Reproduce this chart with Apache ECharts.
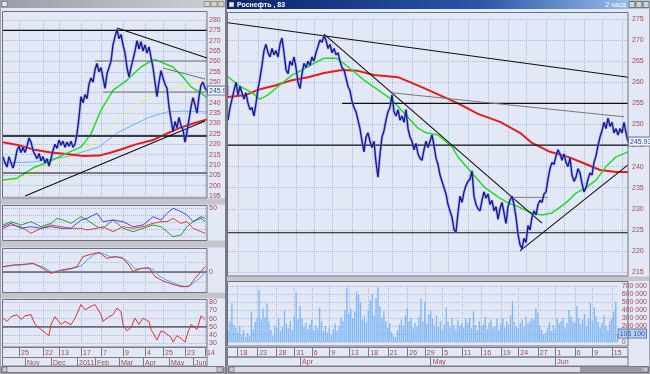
<!DOCTYPE html>
<html><head><meta charset="utf-8">
<script src="https://cdn.jsdelivr.net/npm/echarts/dist/echarts.min.js"></script>
<style>html,body{margin:0;padding:0;background:#a0a0a8}#c{width:650px;height:374px}</style>
</head><body><div id="c"></div><script>
// ---------- DATA ----------
// Left window (daily)
const leftPrice = [214,211,209,214,211,208.5,212,217,219,216,
218.5,216,219,223,221,217,215,213,215.5,212,
214,211,213,209.5,213,217,220,218,222,219.5,
221.5,218.5,221,219,221.5,218.5,220,225,233,243,
240,244,242,249,252,250,256,259,255,257,
252,247,254,257,260,268,272,275.5,271,273,
268,264,257,252.5,257,261,265,270,266,269.5,
265,268,264,267,262,257,250,243,250,255.5,
252,249,247,238,232,226,231,228,233,229,
227,221,226,232,238,242.5,239,235,243,248.5,
250,247,245.9];
const leftRedMA = [[0,221],[8,219.5],[15,217.5],[24,216],[33,215.2],[40,214.3],[48,214.5],[54,216],[60,217.8],[66,219.8],[75,222],[82,225.2],[88,227.8],[95,230],[102,232]];
const leftGreenMA = [[0,202.7],[7,203.6],[15,208.5],[24,212],[32,215.7],[39,218.7],[44,225],[49,236.5],[55,246],[62,251],[69,257.3],[74,260.2],[76,261],[79,259.7],[85,257.3],[90,252.5],[94,247.7],[99,244.7],[102,242.5]];
const leftYellowMA = [[0,200.3],[15,206],[32,212.4],[48,222],[57,231.7],[65,238],[73,243],[82,246],[90,248.6],[102,251]];
const leftBlueMA = [[0,211],[15,211.4],[32,214],[48,218.7],[57,225.4],[65,229.3],[73,233],[82,235.6],[90,236],[102,235.6]];
const leftBlackLines = [[[0,275],[102,275]],[[0,206.1],[102,206.1]],[[57,276.1],[102,261.6]],[[11,195],[101,231.2]]];
const leftThickLines = [[[0,224],[102,224]]];
const leftGrayLines = [[[46,260.2],[102,260.2]],[[50,245.2],[102,245.2]],[[80,256.8],[101,251.5]]];
const dmiBlue = [[0,23.3],[4,28.1],[9,21],[14,23.3],[19,21],[24,23.3],[29,21],[34,21],[39,32.9],[42,35.2],[47,42.4],[50,30.5],[55,32.9],[60,30.5],[65,23.3],[70,25.7],[75,37.6],[79,32.9],[82,42.4],[85,49.5],[89,44.8],[92,40],[95,30.5],[99,37.6],[101,35.2]];
const dmiRed = [[0,21],[4,25.7],[9,23.3],[14,13.8],[19,21],[24,25.7],[29,23.3],[34,21],[39,21],[42,18.6],[47,21],[50,23.3],[55,16.2],[60,23.3],[65,21],[70,23.3],[75,28.1],[79,30.5],[82,30.5],[85,35.2],[89,28.1],[92,30.5],[95,21],[99,16.2],[101,13.8]];
const dmiGreen = [[0,25.7],[4,30.5],[9,25.7],[14,30.5],[19,23.3],[24,28.1],[27,35.2],[30,32.9],[34,28.1],[39,37.6],[42,32.9],[47,23.3],[50,21],[55,32.9],[60,21],[65,16.2],[70,21],[75,25.7],[79,23.3],[82,16.2],[85,9],[89,11.4],[92,23.3],[95,30.5],[99,35.2],[101,30.5]];
const macdLine = [[0,2.7],[5,3.5],[10,3.8],[15,4.3],[20,1.8],[24,-0.7],[29,1],[34,1.8],[37,2.7],[40,7.7],[44,8.8],[48,9.8],[52,6.8],[56,7.7],[60,6.8],[63,3.5],[65,0.2],[69,1.8],[73,2.2],[76,-2.3],[80,-4.5],[85,-6.2],[89,-7.3],[93,-7.3],[96,-3.2],[99,0.2],[101,2.7]];
const macdSignal = [[0,2.5],[5,3.3],[10,3.6],[15,4.2],[20,2.5],[24,0.2],[29,0.5],[34,1.5],[39,3],[42,6],[46,9],[49,9.5],[54,7.5],[59,7.5],[63,5],[66,1.5],[70,1.8],[75,1.5],[78,-2],[82,-4.2],[87,-6.2],[91,-7.3],[94,-6.5],[99,-2.5],[101,0]];
const macdZero = [[0,0],[102,0]];
const rsi = [[0,60.7],[2,56.6],[4,62.4],[7,65],[9,59],[11,63.5],[14,65],[16,53],[19,47],[21,43],[23,39.5],[24,53],[26,62.4],[29,53],[31,56.6],[34,52.6],[36,60.7],[39,77.3],[41,71],[44,75],[46,77.3],[49,65],[50,56.6],[53,62.4],[55,65],[57,73],[59,68.7],[60,53],[62,45.2],[64,49.3],[66,60.7],[68,53],[70,60.7],[73,56.6],[74,47],[77,34],[79,45.2],[81,43],[84,37.4],[85,31.5],[87,39.5],[89,36],[91,31.5],[93,47],[94,53],[97,47],[99,63.5],[101,59]];
const rsiMid = [[0,50],[102,50]];
const leftDayTicks = [[8,'25'],[20,'22'],[28,'13'],[39,'17'],[49,'7'],[60,'9'],[71,'4'],[80,'25'],[91,'23'],[101,'14']];
const leftMonthTicks = [[11,'Nov'],[24,'Dec'],[37,'2011'],[46,'Feb'],[58,'Mar'],[70,'Apr'],[83,'May'],[95,'Jun']];

// Right window (2-hour bars)
const rightPrice = [251,254,256,258,260,257,259,257.5,256,257.5,
255,253.5,254,252,255,258.5,261,264,267.5,269,
267,266,268,266.5,267.5,266,269,270.5,267,263,
262,265,264,266,263.5,260,258.5,262,264.5,263.5,
265,264,266,265,267,268.5,270,269.5,271,270,
268,269,267,268,266.5,267,265,263.5,263,261,
259,258,255.5,254,253,251,249,246,243.5,247,
248,246,244.5,246,241,237.5,243,247,248.5,251,
253,254,257,253,252,253.5,251,252,250.5,253.5,
249,247,246,244,245.5,243,242,241.5,244,246,
244.5,246,247.5,245,242,240.5,238,236.5,235,233.5,
231,229.5,228,225,224.5,229,233,231.5,234,235.5,
236.5,237,239,233,231,230,229.5,232,234,232.5,
233.5,231,232,229.5,230.5,227.5,230,231.5,229,226.5,
230.5,232,233,231,228,224,221.5,220.5,223,222,
226,225,228,229.5,228.5,231,232,231.5,233.5,234,
237,239.5,241,240.5,242.5,244,243,241.5,243,241,
240,242,238,236.5,237.5,239.5,238.5,236,234,235,
237,238.5,238,241,242.5,245,247,248.5,250.5,249,
251.5,249.5,250.5,248,249,247.5,249,248,250.5,248,
245.93];
const rightRedMA = [[0,256.5],[9,257],[15,258.2],[24,259.3],[32,260.5],[40,261.2],[48,262.2],[57,262.9],[65,262.7],[73,261.7],[85,261.2],[98,258.6],[115,255],[125,252.5],[136,250.6],[146,248],[152,245.6],[161,243.5],[170,242.3],[178,240.8],[186,239.2],[194,238.7],[200,238.7]];
const rightGreenMA = [[0,261.3],[5,259.4],[12,257.5],[16,256],[20,257],[25,259],[32,261.7],[37,262.9],[43,264.5],[48,265.7],[54,265.7],[57,264.8],[62,262.9],[68,260.5],[75,258.2],[82,255.8],[88,252.7],[95,249.1],[99,248],[105,247.5],[112,244.7],[115,242.3],[122,238.5],[128,235.2],[135,232.8],[140,231.4],[145,230.5],[152,229],[157,228.5],[162,229],[169,231.4],[174,233.7],[179,235],[184,236.8],[189,240],[194,242.3],[200,243.5]];
const rightBlackLines = [[[0,274.1],[200,261.2]],[[48,271.4],[157,226.6]],[[146,220],[200,240.4]],[[57,255],[200,255]],[[0,245.1],[200,245.1]],[[0,224.3],[200,224.3]]];
const rightGrayLines = [[[82,257.5],[198,251.8]],[[143,232.7],[160,232.7]]];
const rightVolume = [150,260,480,220,180,120,200,90,150,60,
110,80,380,160,250,300,650,280,420,310,
480,260,150,80,210,180,300,140,190,400,
230,170,260,150,320,620,280,450,300,190,
240,160,220,280,150,210,180,430,260,140,
200,120,180,90,160,230,140,200,310,260,
400,680,350,420,300,380,630,600,500,280,
330,250,400,520,600,330,550,680,440,300,
380,260,180,230,120,80,60,150,220,280,
200,330,420,260,300,180,240,200,310,540,
260,500,230,340,400,290,210,330,190,260,
150,220,430,250,180,300,210,160,270,200,
230,180,290,240,300,170,380,210,150,260,
190,220,310,160,240,280,180,200,290,150,
230,300,180,260,220,330,510,250,200,170,
240,280,190,320,230,260,300,280,420,360,
200,150,90,120,180,250,140,210,160,290,
230,260,300,180,240,400,320,260,240,450,
300,220,280,350,200,300,500,260,430,320,
250,180,240,330,200,150,260,300,380,500,
105.1]; // thousands
const rightDayTicks = [[5,'18'],[15,'23'],[25,'28'],[34,'31'],[43,'6'],[52,'9'],[62,'13'],[72,'18'],[82,'21'],[92,'26'],[101,'29'],[110,'5'],[120,'11'],[130,'16'],[140,'19'],[149,'24'],[159,'27'],[168,'1'],[178,'6'],[187,'9'],[197,'15']];
const rightMonthTicks = [[37,'Apr'],[104,'May'],[168,'Jun']];
const rightTitle = 'Роснефть , 83';
const rightPeriod = '2 часа';

// ---------- STYLE ----------
const FONT = 'Liberation Sans';
const LBL = '#a44848';
const GRID = '#a9b9de';
const BG = '#e3e8f6';

const catL = leftPrice.map((_, i) => String(i));
const catR = rightPrice.map((_, i) => String(i));
const ldMap = new Map(leftDayTicks), lmMap = new Map(leftMonthTicks);
const rdMap = new Map(rightDayTicks), rmMap = new Map(rightMonthTicks);

function plotX(grid, cats, dayMap) {
  return {type:'category', gridIndex:grid, data:cats, boundaryGap:false,
    axisLine:{show:false}, axisTick:{show:false}, axisLabel:{show:false},
    splitLine:{show:true, interval:(i)=>dayMap.has(i), lineStyle:{color:GRID, type:'dotted', width:1}}};
}
function rowX(grid, cats, map, offset) {
  return {type:'category', gridIndex:grid, data:cats, boundaryGap:false, position:'bottom', offset,
    axisLine:{show:false},
    axisTick:{show:true, interval:(i)=>map.has(i), length:9, lineStyle:{color:'#7a7a84'}},
    axisLabel:{show:true, interval:(i)=>map.has(i), formatter:(v,i)=>map.get(i)||'', align:'left', margin:2,
      padding:[0,0,0,2], fontSize:7, fontFamily:FONT, color:LBL},
    splitLine:{show:false}};
}
function yAx(grid, min, max, interval, fmt, margin, split) {
  return {type:'value', gridIndex:grid, position:'right', min, max, interval,
    axisLine:{show:false}, axisTick:{show:false},
    axisLabel:{show:true, formatter:fmt, margin, align:'left', fontSize:7, fontFamily:FONT, color:LBL},
    splitLine:{show:split!==false, lineStyle:{color:GRID, type:'dotted', width:1}}};
}
function ln(xi, yi, data, color, width, extra) {
  return Object.assign({type:'line', xAxisIndex:xi, yAxisIndex:yi, data, symbol:'none', showSymbol:false,
    silent:true, animation:false, lineStyle:{color, width}, z:3}, extra||{});
}
function lastLabel(val, text, fg, bgc) {
  return {silent:true, symbol:'none', animation:false, precision:2, data:[{yAxis:val}],
    lineStyle:{color:'rgba(0,0,0,0)', width:1, type:'solid', opacity:1},
    label:{show:true, position:'end', distance:1, formatter:()=>text, fontSize:7, fontFamily:FONT, opacity:1,
      color:fg, backgroundColor:bgc, borderColor:'#6a7898', borderWidth:1, padding:[1,1,0,1]},
    emphasis:{disabled:true}};
}
const fmtThousands = (v) => String(v).replace(/\B(?=(\d{3})+(?!\d))/g, ' ');

const series = [];
// left price panel
series.push(ln(0,0,leftYellowMA,'#eeee78',1));
series.push(ln(0,0,leftBlueMA,'#66b4f4',1));
series.push(ln(0,0,leftRedMA,'#e41c1c',2));
series.push(ln(0,0,leftGreenMA,'#22dd22',1.5));
leftThickLines.forEach(s => series.push(ln(0,0,s,'#3c3c44',2)));
leftBlackLines.forEach(s => series.push(ln(0,0,s,'#101010',1.1)));
leftGrayLines.forEach(s => series.push(ln(0,0,s,'#6e6e6e',1)));
series.push(ln(0,0,leftPrice,'#7d95e0',3,{lineStyle:{color:'#7d95e0',width:3,opacity:0.5}}));
series.push(ln(0,0,leftPrice,'#1a1a96',1.4,{z:4,
  markLine:lastLabel(leftPrice[leftPrice.length-1], leftPrice[leftPrice.length-1].toFixed(1), '#1c3c9c', '#f4f6ff')}));
// DMI
series.push(ln(1,1,dmiGreen,'#2e9e2e',1,{clip:false}));
series.push(ln(1,1,dmiRed,'#e04040',1,{clip:false}));
series.push(ln(1,1,dmiBlue,'#4848e0',1,{clip:false}));
// MACD
series.push(ln(2,2,macdZero,'#202020',1));
series.push(ln(2,2,macdSignal,'#50a8f0',1));
series.push(ln(2,2,macdLine,'#e03030',1));
// RSI
series.push(ln(3,3,rsiMid,'#202020',1));
series.push(ln(3,3,rsi,'#e03030',1));
// right price panel
series.push(ln(6,4,rightRedMA,'#e41c1c',2));
series.push(ln(6,4,rightGreenMA,'#22dd22',1.5));
rightBlackLines.forEach(s => series.push(ln(6,4,s,'#101010',1.1)));
rightGrayLines.forEach(s => series.push(ln(6,4,s,'#7a7a7a',1)));
series.push(ln(6,4,rightPrice,'#7d95e0',3,{lineStyle:{color:'#7d95e0',width:3,opacity:0.5}}));
series.push(ln(6,4,rightPrice,'#1a1a96',1.4,{z:4,
  markLine:lastLabel(rightPrice[rightPrice.length-1], rightPrice[rightPrice.length-1].toFixed(2), '#1c3c9c', '#f4f6ff')}));
// volume
const lastVol = rightVolume[rightVolume.length-1];
series.push({type:'bar', xAxisIndex:7, yAxisIndex:5, data:rightVolume, barWidth:1.4, silent:true, animation:false,
  itemStyle:{color:'#80b8f6'},
  markLine:lastLabel(lastVol, fmtThousands(Math.round(lastVol*1000)), '#2050c0', '#b8d0f8')});

// ---------- FRAME GRAPHICS ----------
const G = [];
function rect(x,y,w,h,style,z){ G.push({type:'rect', shape:{x,y,width:w,height:h}, style, z:(z===undefined?-5:z), silent:true}); }
function txt(x,y,text,style){ G.push({type:'text', x, y, silent:true, z:30,
  style:Object.assign({text, font:'bold 7px '+FONT, fill:'#ffffff', textVerticalAlign:'middle', verticalAlign:'middle'}, style)}); }
rect(0,0,650,374,{fill:'#a2a2aa'},-10);
rect(1,8,224,359,{fill:BG},-9);
rect(227,9,422,358,{fill:BG},-9);
// panel separators
[[198.5,6],[240.5,7],[292.5,6]].forEach(b => rect(1,b[0],224,b[1],{fill:'#c4c4cc'},-8));
rect(227,276.5,422,4.5,{fill:'#c4c4cc'},-8);
// title bars
rect(0,0,225,8,{fill:{type:'linear',x:0,y:0,x2:1,y2:0,colorStops:[{offset:0,color:'#9c9ca6'},{offset:1,color:'#d0d0d8'}]}},20);
rect(2,1.5,5,5,{fill:'#e8e8f0',stroke:'#606070',lineWidth:0.6},21);
[204,211,218].forEach(x => rect(x,1.5,6,5,{fill:'#d4d0c8',stroke:'#6a6a6a',lineWidth:0.6},21));
rect(227,0,423,9,{fill:{type:'linear',x:0,y:0,x2:1,y2:0,colorStops:[{offset:0,color:'#0a246a'},{offset:0.6,color:'#2a56a8'},{offset:1,color:'#a6caf0'}]}},20);
rect(229,2,5,5,{fill:'#e8e8f0',stroke:'#404060',lineWidth:0.6},21);
[629,636,643].forEach(x => rect(x,1.5,6,6,{fill:'#d4d0c8',stroke:'#404040',lineWidth:0.6},21));
txt(237,4.7,rightTitle,{});
txt(626,4.7,rightPeriod,{textAlign:'right',align:'right',font:'7px '+FONT});
// divider
rect(225,0,2,374,{fill:'#7c7c86'},19);
// panel frames
const frame = {fill:'none', stroke:'#70707c', lineWidth:1};
[[2.5,11.5,204.5,186.5],[2.5,205.5,204.5,35],[2.5,248.5,204.5,44],[2.5,299.5,204.5,47.5],
 [227.5,12.5,400.5,263.5],[227.5,281.5,400.5,64.5]].forEach(r => rect(r[0],r[1],r[2],r[3],frame,10));
// date rows
const rowStyle = {fill:'none', stroke:'#7a7a84', lineWidth:1};
[[2.5,347.5,204.5,10],[2.5,357.5,204.5,8.5],[227.5,347.5,400.5,9.5],[227.5,357,400.5,9]].forEach(r => rect(r[0],r[1],r[2],r[3],rowStyle,10));
// scrollbars
rect(1.5,366.5,222,6,{fill:'#dcdce2',stroke:'#7a7a84',lineWidth:1},10);
rect(228.5,366.5,420,6,{fill:'#dcdce2',stroke:'#7a7a84',lineWidth:1},10);
rect(2,367,5,5,{fill:'#c8c8d0',stroke:'#606068',lineWidth:0.6},11);
rect(217,367,5,5,{fill:'#c8c8d0',stroke:'#606068',lineWidth:0.6},11);
rect(229,367,5,5,{fill:'#c8c8d0',stroke:'#606068',lineWidth:0.6},11);
rect(580,367,62,5,{fill:'#9a9aa4'},11);
rect(643,367,5,5,{fill:'#c8c8d0',stroke:'#606068',lineWidth:0.6},11);

const option = {
  animation:false,
  backgroundColor:'#a2a2aa',
  textStyle:{fontFamily:FONT},
  grid:[
    {left:3, top:20, width:204, height:176},
    {left:3, top:208, width:204, height:28},
    {left:3, top:252, width:204, height:40},
    {left:3, top:302.3, width:204, height:41},
    {left:228, top:19, width:400, height:253},
    {left:228, top:286, width:400, height:56}
  ],
  xAxis:[
    plotX(0,catL,ldMap), plotX(1,catL,ldMap), plotX(2,catL,ldMap), plotX(3,catL,ldMap),
    rowX(3,catL,ldMap,4), rowX(3,catL,lmMap,14),
    plotX(4,catR,rdMap), plotX(5,catR,rdMap),
    rowX(5,catR,rdMap,5.5), rowX(5,catR,rmMap,15)
  ],
  yAxis:[
    yAx(0,195,280,5,(v)=>String(v),2),
    yAx(1,10,50,10,(v)=>v===50?'50':'',2),
    yAx(2,-10,10,5,(v)=>v===0?'0':'',2),
    yAx(3,30,80,10,(v)=>String(v),2),
    yAx(4,215,275,5,(v)=>String(v),4),
    yAx(5,0,700,100,(v)=>v===0?'0':v+' 000',4)
  ],
  graphic:{elements:G},
  series
};
const chart = echarts.init(document.getElementById('c'), null, {renderer:'canvas', width:650, height:374});
chart.setOption(option);
</script></body></html>
